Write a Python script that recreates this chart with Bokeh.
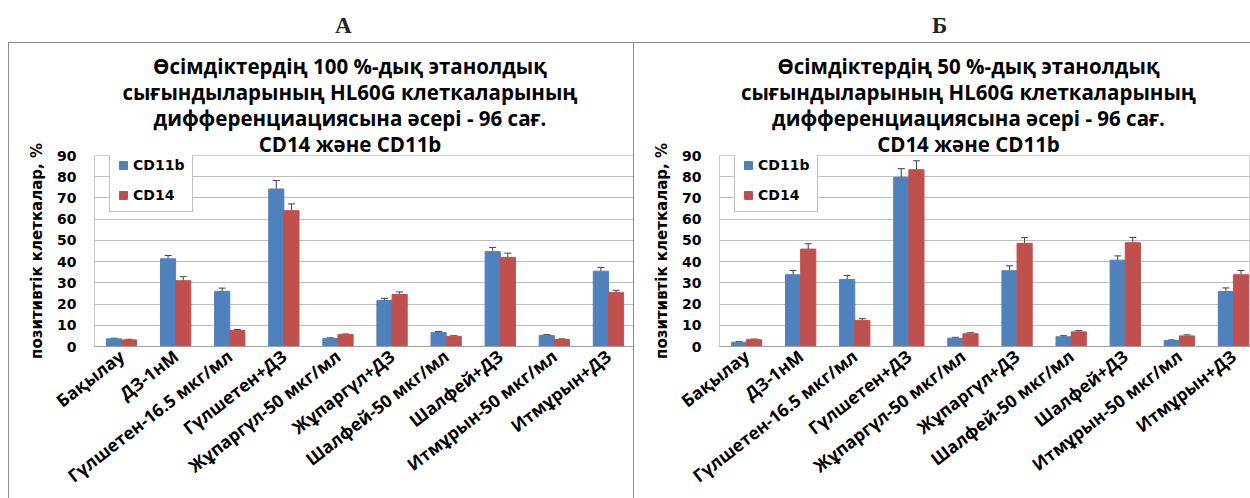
import numpy as np
from bokeh.plotting import figure
from bokeh.models import (Range1d, FixedTicker, Whisker, ColumnDataSource, Legend,
                          LegendItem, Div, TeeHead, Spacer, Title)
from bokeh.layouts import row, column
from bokeh.embed import file_html
from bokeh.resources import INLINE

categories = ["Бақылау", "ДЗ-1нМ", "Гүлшетен-16.5 мкг/мл", "Гүлшетен+ДЗ",
              "Жұпаргүл-50 мкг/мл", "Жұпаргүл+ДЗ", "Шалфей-50 мкг/мл",
              "Шалфей+ДЗ", "Итмұрын-50 мкг/мл", "Итмұрын+ДЗ"]
series_names = ["CD11b", "CD14"]
y_ticks = [0, 10, 20, 30, 40, 50, 60, 70, 80, 90]
y_label = "позитивтік клеткалар, %"

title_A = ["Өсімдіктердің 100 %-дық этанолдық",
           "сығындыларының HL60G клеткаларының",
           "дифференциациясына әсері - 96 сағ.",
           "CD14 және CD11b"]
title_B = ["Өсімдіктердің 50 %-дық этанолдық",
           "сығындыларының HL60G клеткаларының",
           "дифференциациясына әсері - 96 сағ.",
           "CD14 және CD11b"]

cd11b_A = [3.6, 41.3, 26.0, 74.2, 3.8, 21.7, 6.6, 44.7, 5.2, 35.5]
cd14_A = [3.1, 31.0, 7.5, 64.0, 5.6, 24.5, 4.8, 42.0, 3.3, 25.5]
err11_A = [0.3, 1.6, 1.5, 4.0, 0.3, 1.0, 0.5, 2.0, 0.4, 1.8]
err14_A = [0.3, 1.9, 0.5, 3.2, 0.3, 1.2, 0.3, 2.0, 0.3, 1.0]

cd11b_B = [2.0, 33.8, 31.6, 79.7, 3.9, 35.7, 4.6, 40.7, 2.8, 25.9]
cd14_B = [3.2, 45.9, 12.3, 83.3, 6.0, 48.6, 6.9, 48.9, 5.0, 33.8]
err11_B = [0.3, 2.0, 1.9, 4.1, 0.4, 2.3, 0.5, 2.0, 0.3, 1.7]
err14_B = [0.3, 2.5, 0.8, 4.2, 0.5, 2.7, 0.6, 2.5, 0.5, 2.0]

BLUE = "#4F81BD"
RED = "#C0504D"
BORDER = "1px solid #8C8C8C"


def style_title(t, shift):
    t.align = "center"
    t.text_font = "Open Sans"
    t.text_font_style = "bold"
    t.text_font_size = "20.5px"
    t.text_color = "black"
    t.standoff = -4
    t.padding = dict(left=0, right=shift, top=0, bottom=0)


def make_panel(lines, v11, v14, e11, e14, width, x_end, styles, shift):
    p = figure(width=width, height=456, x_range=Range1d(-0.5, x_end),
               y_range=Range1d(0, 90), output_backend="svg", toolbar_location=None,
               min_border_left=85, min_border_right=0, min_border_top=112,
               min_border_bottom=153, background_fill_color="white",
               border_fill_color="white", outline_line_color="#D0D0D0")
    p.styles = styles
    # first added title sits nearest the frame; p.title is outermost
    for ln in reversed(lines[1:]):
        t = Title(text=ln)
        style_title(t, shift)
        p.add_layout(t, "above")
    p.title.text = lines[0]
    style_title(p.title, shift)

    idx = np.arange(len(categories))
    bw = 0.28
    s11 = ColumnDataSource(dict(x=idx - bw / 2, top=v11, upper=np.array(v11) + np.array(e11)))
    s14 = ColumnDataSource(dict(x=idx + bw / 2, top=v14, upper=np.array(v14) + np.array(e14)))
    r1 = p.vbar(x="x", top="top", width=bw, source=s11, fill_color=BLUE, line_color=BLUE)
    r2 = p.vbar(x="x", top="top", width=bw, source=s14, fill_color=RED, line_color=RED)
    for s in (s11, s14):
        w = Whisker(source=s, base="x", upper="upper", lower="top", line_color="#404040",
                    line_width=1, lower_head=None,
                    upper_head=TeeHead(size=7, line_color="#404040", line_width=1))
        p.add_layout(w)

    p.xgrid.visible = False
    p.ygrid.grid_line_color = "#BFBFBF"
    p.ygrid.grid_line_width = 1

    p.yaxis.ticker = FixedTicker(ticks=y_ticks)
    p.yaxis.major_label_text_font = "DejaVu Sans"
    p.yaxis.major_label_text_font_style = "bold"
    p.yaxis.major_label_text_font_size = "14px"
    p.yaxis.major_label_text_color = "black"
    p.yaxis.major_tick_out = 0
    p.yaxis.major_tick_in = 0
    p.yaxis.minor_tick_out = 0
    p.yaxis.minor_tick_in = 0
    p.yaxis.major_label_standoff = 18
    p.yaxis.axis_line_color = "#C8C8C8"
    p.yaxis.axis_label = y_label
    p.yaxis.axis_label_text_font = "DejaVu Sans"
    p.yaxis.axis_label_text_font_style = "bold"
    p.yaxis.axis_label_text_font_size = "15px"
    p.yaxis.axis_label_text_color = "black"
    p.yaxis.axis_label_standoff = 8

    p.xaxis.ticker = FixedTicker(ticks=list(range(len(categories))))
    p.xaxis.major_label_overrides = {i: c for i, c in enumerate(categories)}
    p.xaxis.major_label_orientation = 0.66
    p.xaxis.major_label_text_font = "Open Sans"
    p.xaxis.major_label_text_font_style = "bold"
    p.xaxis.major_label_text_font_size = "17.5px"
    p.xaxis.major_label_text_color = "black"
    p.xaxis.major_tick_out = 0
    p.xaxis.major_tick_in = 0
    p.xaxis.minor_tick_out = 0
    p.xaxis.minor_tick_in = 0
    p.xaxis.major_label_standoff = 7
    p.xaxis.axis_line_color = "#A0A0A0"

    legend = Legend(items=[LegendItem(label=series_names[0], renderers=[r1]),
                           LegendItem(label=series_names[1], renderers=[r2])],
                    location=(15, 134), orientation="vertical",
                    label_text_font="DejaVu Sans", label_text_font_style="bold",
                    label_text_font_size="14px", label_text_color="black",
                    glyph_width=10, glyph_height=10, label_height=12, spacing=14,
                    padding=8, margin=0, label_standoff=5,
                    border_line_color="#7F7F7F", border_line_width=1,
                    background_fill_color="white", background_fill_alpha=1)
    p.add_layout(legend)
    return p


pA = make_panel(title_A, cd11b_A, cd14_A, err11_A, err14_A, 626, 9.5,
                {"border-left": BORDER, "border-top": BORDER, "border-right": BORDER,
                 "box-sizing": "border-box"}, 30)
pB = make_panel(title_B, cd11b_B, cd14_B, err11_B, err14_B, 616, -0.5 + 531 / 54.1,
                {"border-top": BORDER, "box-sizing": "border-box"}, 33)

header = Div(text=(
    '<div style="position:relative;width:1250px;height:42px;'
    'font-family:\'Liberation Serif\';font-weight:bold;font-size:23px;color:#222">'
    '<span style="position:absolute;left:335px;top:10px">А</span>'
    '<span style="position:absolute;left:932px;top:10px">Б</span></div>'),
    width=1250, height=42, margin=0)

spacer = Spacer(width=8, height=456, margin=0)
layout = column(header, row(spacer, pA, pB))

open("out.html", "w").write(file_html(layout, INLINE))
